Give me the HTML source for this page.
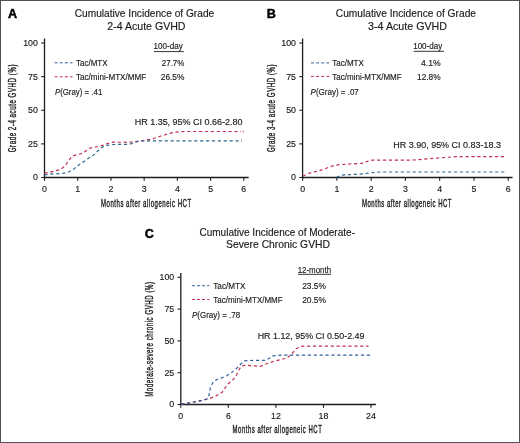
<!DOCTYPE html>
<html><head><meta charset="utf-8"><style>
html,body{margin:0;padding:0;background:#fff;}
#w{position:relative;width:520px;height:443px;overflow:hidden;background:#fff;}
svg{position:absolute;left:0;top:0;filter:blur(0.3px);}
text{font-family:"Liberation Sans",sans-serif;}
</style></head><body><div id="w">
<svg width="520" height="443" viewBox="0 0 520 443">
<rect x="0.5" y="0.5" width="519" height="442" fill="none" stroke="#515151" stroke-width="1"/>
<line x1="44.5" y1="38.5" x2="44.5" y2="178.0" stroke="#1e1e1e" stroke-width="1.3"/>
<line x1="44.0" y1="177.5" x2="248.7" y2="177.5" stroke="#1e1e1e" stroke-width="1.3"/>
<line x1="41.2" y1="177.50" x2="44.5" y2="177.50" stroke="#1e1e1e" stroke-width="1.1"/>
<text x="37.9" y="180.4" font-size="8.8" text-anchor="end" fill="#1a1a1a" stroke="#1a1a1a" stroke-width="0.15">0</text>
<line x1="41.2" y1="143.88" x2="44.5" y2="143.88" stroke="#1e1e1e" stroke-width="1.1"/>
<text x="37.9" y="146.78" font-size="8.8" text-anchor="end" fill="#1a1a1a" stroke="#1a1a1a" stroke-width="0.15">25</text>
<line x1="41.2" y1="110.25" x2="44.5" y2="110.25" stroke="#1e1e1e" stroke-width="1.1"/>
<text x="37.9" y="113.15" font-size="8.8" text-anchor="end" fill="#1a1a1a" stroke="#1a1a1a" stroke-width="0.15">50</text>
<line x1="41.2" y1="76.62" x2="44.5" y2="76.62" stroke="#1e1e1e" stroke-width="1.1"/>
<text x="37.9" y="79.53" font-size="8.8" text-anchor="end" fill="#1a1a1a" stroke="#1a1a1a" stroke-width="0.15">75</text>
<line x1="41.2" y1="43.00" x2="44.5" y2="43.00" stroke="#1e1e1e" stroke-width="1.1"/>
<text x="37.9" y="45.9" font-size="8.8" text-anchor="end" fill="#1a1a1a" stroke="#1a1a1a" stroke-width="0.15">100</text>
<line x1="44.50" y1="177.5" x2="44.50" y2="180.8" stroke="#1e1e1e" stroke-width="1.1"/>
<text x="44.5" y="191.6" font-size="8.8" text-anchor="middle" fill="#1a1a1a" stroke="#1a1a1a" stroke-width="0.15">0</text>
<line x1="77.72" y1="177.5" x2="77.72" y2="180.8" stroke="#1e1e1e" stroke-width="1.1"/>
<text x="77.72" y="191.6" font-size="8.8" text-anchor="middle" fill="#1a1a1a" stroke="#1a1a1a" stroke-width="0.15">1</text>
<line x1="110.94" y1="177.5" x2="110.94" y2="180.8" stroke="#1e1e1e" stroke-width="1.1"/>
<text x="110.94" y="191.6" font-size="8.8" text-anchor="middle" fill="#1a1a1a" stroke="#1a1a1a" stroke-width="0.15">2</text>
<line x1="144.16" y1="177.5" x2="144.16" y2="180.8" stroke="#1e1e1e" stroke-width="1.1"/>
<text x="144.16" y="191.6" font-size="8.8" text-anchor="middle" fill="#1a1a1a" stroke="#1a1a1a" stroke-width="0.15">3</text>
<line x1="177.38" y1="177.5" x2="177.38" y2="180.8" stroke="#1e1e1e" stroke-width="1.1"/>
<text x="177.38" y="191.6" font-size="8.8" text-anchor="middle" fill="#1a1a1a" stroke="#1a1a1a" stroke-width="0.15">4</text>
<line x1="210.60" y1="177.5" x2="210.60" y2="180.8" stroke="#1e1e1e" stroke-width="1.1"/>
<text x="210.6" y="191.6" font-size="8.8" text-anchor="middle" fill="#1a1a1a" stroke="#1a1a1a" stroke-width="0.15">5</text>
<line x1="243.82" y1="177.5" x2="243.82" y2="180.8" stroke="#1e1e1e" stroke-width="1.1"/>
<text x="243.82" y="191.6" font-size="8.8" text-anchor="middle" fill="#1a1a1a" stroke="#1a1a1a" stroke-width="0.15">6</text>
<text x="101.0" y="206.6" font-size="10.2" textLength="90.6" lengthAdjust="spacingAndGlyphs" fill="#1a1a1a" stroke="#222" stroke-width="0.4" letter-spacing="0.9">Months after allogeneic HCT</text>
<g transform="translate(16.4,152.2) rotate(-90)"><text x="0" y="0" font-size="10.2" textLength="88.2" lengthAdjust="spacingAndGlyphs" fill="#1a1a1a" stroke="#222" stroke-width="0.4" letter-spacing="0.9">Grade 2-4 acute GVHD (%)</text></g>
<line x1="302.6" y1="38.5" x2="302.6" y2="178.0" stroke="#1e1e1e" stroke-width="1.3"/>
<line x1="302.1" y1="177.5" x2="512.6" y2="177.5" stroke="#1e1e1e" stroke-width="1.3"/>
<line x1="299.3" y1="177.50" x2="302.6" y2="177.50" stroke="#1e1e1e" stroke-width="1.1"/>
<text x="296.0" y="180.4" font-size="8.8" text-anchor="end" fill="#1a1a1a" stroke="#1a1a1a" stroke-width="0.15">0</text>
<line x1="299.3" y1="143.88" x2="302.6" y2="143.88" stroke="#1e1e1e" stroke-width="1.1"/>
<text x="296.0" y="146.78" font-size="8.8" text-anchor="end" fill="#1a1a1a" stroke="#1a1a1a" stroke-width="0.15">25</text>
<line x1="299.3" y1="110.25" x2="302.6" y2="110.25" stroke="#1e1e1e" stroke-width="1.1"/>
<text x="296.0" y="113.15" font-size="8.8" text-anchor="end" fill="#1a1a1a" stroke="#1a1a1a" stroke-width="0.15">50</text>
<line x1="299.3" y1="76.62" x2="302.6" y2="76.62" stroke="#1e1e1e" stroke-width="1.1"/>
<text x="296.0" y="79.53" font-size="8.8" text-anchor="end" fill="#1a1a1a" stroke="#1a1a1a" stroke-width="0.15">75</text>
<line x1="299.3" y1="43.00" x2="302.6" y2="43.00" stroke="#1e1e1e" stroke-width="1.1"/>
<text x="296.0" y="45.9" font-size="8.8" text-anchor="end" fill="#1a1a1a" stroke="#1a1a1a" stroke-width="0.15">100</text>
<line x1="302.60" y1="177.5" x2="302.60" y2="180.8" stroke="#1e1e1e" stroke-width="1.1"/>
<text x="302.6" y="191.6" font-size="8.8" text-anchor="middle" fill="#1a1a1a" stroke="#1a1a1a" stroke-width="0.15">0</text>
<line x1="336.87" y1="177.5" x2="336.87" y2="180.8" stroke="#1e1e1e" stroke-width="1.1"/>
<text x="336.87" y="191.6" font-size="8.8" text-anchor="middle" fill="#1a1a1a" stroke="#1a1a1a" stroke-width="0.15">1</text>
<line x1="371.14" y1="177.5" x2="371.14" y2="180.8" stroke="#1e1e1e" stroke-width="1.1"/>
<text x="371.14" y="191.6" font-size="8.8" text-anchor="middle" fill="#1a1a1a" stroke="#1a1a1a" stroke-width="0.15">2</text>
<line x1="405.41" y1="177.5" x2="405.41" y2="180.8" stroke="#1e1e1e" stroke-width="1.1"/>
<text x="405.41" y="191.6" font-size="8.8" text-anchor="middle" fill="#1a1a1a" stroke="#1a1a1a" stroke-width="0.15">3</text>
<line x1="439.68" y1="177.5" x2="439.68" y2="180.8" stroke="#1e1e1e" stroke-width="1.1"/>
<text x="439.68" y="191.6" font-size="8.8" text-anchor="middle" fill="#1a1a1a" stroke="#1a1a1a" stroke-width="0.15">4</text>
<line x1="473.95" y1="177.5" x2="473.95" y2="180.8" stroke="#1e1e1e" stroke-width="1.1"/>
<text x="473.95" y="191.6" font-size="8.8" text-anchor="middle" fill="#1a1a1a" stroke="#1a1a1a" stroke-width="0.15">5</text>
<line x1="508.22" y1="177.5" x2="508.22" y2="180.8" stroke="#1e1e1e" stroke-width="1.1"/>
<text x="508.22" y="191.6" font-size="8.8" text-anchor="middle" fill="#1a1a1a" stroke="#1a1a1a" stroke-width="0.15">6</text>
<text x="362.0" y="206.6" font-size="10.2" textLength="90.0" lengthAdjust="spacingAndGlyphs" fill="#1a1a1a" stroke="#222" stroke-width="0.4" letter-spacing="0.9">Months after allogeneic HCT</text>
<g transform="translate(275.0,152.0) rotate(-90)"><text x="0" y="0" font-size="10.2" textLength="88.2" lengthAdjust="spacingAndGlyphs" fill="#1a1a1a" stroke="#222" stroke-width="0.4" letter-spacing="0.9">Grade 3-4 acute GVHD (%)</text></g>
<line x1="180.8" y1="273.0" x2="180.8" y2="405.0" stroke="#1e1e1e" stroke-width="1.3"/>
<line x1="180.3" y1="404.5" x2="375.9" y2="404.5" stroke="#1e1e1e" stroke-width="1.3"/>
<line x1="177.5" y1="404.50" x2="180.8" y2="404.50" stroke="#1e1e1e" stroke-width="1.1"/>
<text x="174.20000000000002" y="407.4" font-size="8.8" text-anchor="end" fill="#1a1a1a" stroke="#1a1a1a" stroke-width="0.15">0</text>
<line x1="177.5" y1="372.70" x2="180.8" y2="372.70" stroke="#1e1e1e" stroke-width="1.1"/>
<text x="174.20000000000002" y="375.6" font-size="8.8" text-anchor="end" fill="#1a1a1a" stroke="#1a1a1a" stroke-width="0.15">25</text>
<line x1="177.5" y1="340.90" x2="180.8" y2="340.90" stroke="#1e1e1e" stroke-width="1.1"/>
<text x="174.20000000000002" y="343.8" font-size="8.8" text-anchor="end" fill="#1a1a1a" stroke="#1a1a1a" stroke-width="0.15">50</text>
<line x1="177.5" y1="309.10" x2="180.8" y2="309.10" stroke="#1e1e1e" stroke-width="1.1"/>
<text x="174.20000000000002" y="312.0" font-size="8.8" text-anchor="end" fill="#1a1a1a" stroke="#1a1a1a" stroke-width="0.15">75</text>
<line x1="177.5" y1="277.30" x2="180.8" y2="277.30" stroke="#1e1e1e" stroke-width="1.1"/>
<text x="174.20000000000002" y="280.2" font-size="8.8" text-anchor="end" fill="#1a1a1a" stroke="#1a1a1a" stroke-width="0.15">100</text>
<line x1="180.80" y1="404.5" x2="180.80" y2="407.8" stroke="#1e1e1e" stroke-width="1.1"/>
<text x="180.8" y="418.6" font-size="8.8" text-anchor="middle" fill="#1a1a1a" stroke="#1a1a1a" stroke-width="0.15">0</text>
<line x1="228.35" y1="404.5" x2="228.35" y2="407.8" stroke="#1e1e1e" stroke-width="1.1"/>
<text x="228.35" y="418.6" font-size="8.8" text-anchor="middle" fill="#1a1a1a" stroke="#1a1a1a" stroke-width="0.15">6</text>
<line x1="275.90" y1="404.5" x2="275.90" y2="407.8" stroke="#1e1e1e" stroke-width="1.1"/>
<text x="275.9" y="418.6" font-size="8.8" text-anchor="middle" fill="#1a1a1a" stroke="#1a1a1a" stroke-width="0.15">12</text>
<line x1="323.45" y1="404.5" x2="323.45" y2="407.8" stroke="#1e1e1e" stroke-width="1.1"/>
<text x="323.45" y="418.6" font-size="8.8" text-anchor="middle" fill="#1a1a1a" stroke="#1a1a1a" stroke-width="0.15">18</text>
<line x1="371.00" y1="404.5" x2="371.00" y2="407.8" stroke="#1e1e1e" stroke-width="1.1"/>
<text x="371.0" y="418.6" font-size="8.8" text-anchor="middle" fill="#1a1a1a" stroke="#1a1a1a" stroke-width="0.15">24</text>
<text x="232.6" y="433.0" font-size="10.2" textLength="89.7" lengthAdjust="spacingAndGlyphs" fill="#1a1a1a" stroke="#222" stroke-width="0.4" letter-spacing="0.9">Months after allogeneic HCT</text>
<g transform="translate(152.7,396.8) rotate(-90)"><text x="0" y="0" font-size="10.2" textLength="115.4" lengthAdjust="spacingAndGlyphs" fill="#1a1a1a" stroke="#222" stroke-width="0.4" letter-spacing="0.9">Moderate-severe chronic GVHD (%)</text></g>
<text x="7.9" y="17.6" font-size="12.6" font-weight="bold" fill="#000" stroke="#000" stroke-width="0.45">A</text>
<text x="266.8" y="17.6" font-size="12.6" font-weight="bold" fill="#000" stroke="#000" stroke-width="0.45">B</text>
<text x="144.7" y="237.5" font-size="12.6" font-weight="bold" fill="#000" stroke="#000" stroke-width="0.45">C</text>
<text x="74.7" y="16.6" font-size="10.6" textLength="139.5" lengthAdjust="spacingAndGlyphs" fill="#1a1a1a" stroke="#1a1a1a" stroke-width="0.15">Cumulative Incidence of Grade</text>
<text x="107.3" y="29.6" font-size="10.6" textLength="78.2" lengthAdjust="spacingAndGlyphs" fill="#1a1a1a" stroke="#1a1a1a" stroke-width="0.15">2-4 Acute GVHD</text>
<text x="335.8" y="16.6" font-size="10.6" textLength="140.2" lengthAdjust="spacingAndGlyphs" fill="#1a1a1a" stroke="#1a1a1a" stroke-width="0.15">Cumulative Incidence of Grade</text>
<text x="368.1" y="29.6" font-size="10.6" textLength="78.9" lengthAdjust="spacingAndGlyphs" fill="#1a1a1a" stroke="#1a1a1a" stroke-width="0.15">3-4 Acute GVHD</text>
<text x="199.4" y="235.5" font-size="10.6" textLength="155.6" lengthAdjust="spacingAndGlyphs" fill="#1a1a1a" stroke="#1a1a1a" stroke-width="0.15">Cumulative Incidence of Moderate-</text>
<text x="226.0" y="248.1" font-size="10.6" textLength="104.0" lengthAdjust="spacingAndGlyphs" fill="#1a1a1a" stroke="#1a1a1a" stroke-width="0.15">Severe Chronic GVHD</text>
<line x1="54.6" y1="62.8" x2="72.6" y2="62.8" stroke="#30609e" stroke-width="1.0" stroke-dasharray="3 2.1"/>
<line x1="54.6" y1="76.8" x2="72.6" y2="76.8" stroke="#c0304f" stroke-width="1.0" stroke-dasharray="3 2.1"/>
<text x="76.0" y="66.2" font-size="8.7" textLength="31.5" lengthAdjust="spacingAndGlyphs" fill="#1a1a1a" stroke="#1a1a1a" stroke-width="0.15">Tac/MTX</text>
<text x="76.0" y="79.7" font-size="8.7" textLength="70.2" lengthAdjust="spacingAndGlyphs" fill="#1a1a1a" stroke="#1a1a1a" stroke-width="0.15">Tac/mini-MTX/MMF</text>
<text x="54.9" y="95.0" font-size="8.7" fill="#1a1a1a" stroke="#1a1a1a" stroke-width="0.15" textLength="47.4" lengthAdjust="spacingAndGlyphs"><tspan font-style="italic">P</tspan>(Gray) = .41</text>
<text x="153.6" y="48.7" font-size="8.7" textLength="29.2" lengthAdjust="spacingAndGlyphs" fill="#1a1a1a" stroke="#1a1a1a" stroke-width="0.15">100-day</text>
<line x1="154.0" y1="51.6" x2="183.8" y2="51.6" stroke="#1e1e1e" stroke-width="0.9"/>
<text x="184.4" y="66.2" font-size="8.7" text-anchor="end" textLength="22.6" lengthAdjust="spacingAndGlyphs" fill="#1a1a1a" stroke="#1a1a1a" stroke-width="0.15">27.7%</text>
<text x="184.4" y="79.7" font-size="8.7" text-anchor="end" textLength="23.6" lengthAdjust="spacingAndGlyphs" fill="#1a1a1a" stroke="#1a1a1a" stroke-width="0.15">26.5%</text>
<line x1="311.0" y1="62.9" x2="329.2" y2="62.9" stroke="#30609e" stroke-width="1.0" stroke-dasharray="3 2.1"/>
<line x1="311.0" y1="76.4" x2="329.2" y2="76.4" stroke="#c0304f" stroke-width="1.0" stroke-dasharray="3 2.1"/>
<text x="332.3" y="66.0" font-size="8.7" textLength="31.5" lengthAdjust="spacingAndGlyphs" fill="#1a1a1a" stroke="#1a1a1a" stroke-width="0.15">Tac/MTX</text>
<text x="332.3" y="79.5" font-size="8.7" textLength="69.4" lengthAdjust="spacingAndGlyphs" fill="#1a1a1a" stroke="#1a1a1a" stroke-width="0.15">Tac/mini-MTX/MMF</text>
<text x="310.6" y="94.8" font-size="8.7" fill="#1a1a1a" stroke="#1a1a1a" stroke-width="0.15" textLength="48.2" lengthAdjust="spacingAndGlyphs"><tspan font-style="italic">P</tspan>(Gray) = .07</text>
<text x="413.2" y="48.5" font-size="8.7" textLength="29.0" lengthAdjust="spacingAndGlyphs" fill="#1a1a1a" stroke="#1a1a1a" stroke-width="0.15">100-day</text>
<line x1="413.7" y1="51.3" x2="444.0" y2="51.3" stroke="#1e1e1e" stroke-width="0.9"/>
<text x="440.6" y="66.0" font-size="8.7" text-anchor="end" textLength="19.6" lengthAdjust="spacingAndGlyphs" fill="#1a1a1a" stroke="#1a1a1a" stroke-width="0.15">4.1%</text>
<text x="440.6" y="79.5" font-size="8.7" text-anchor="end" textLength="23.5" lengthAdjust="spacingAndGlyphs" fill="#1a1a1a" stroke="#1a1a1a" stroke-width="0.15">12.8%</text>
<line x1="191.9" y1="285.7" x2="209.4" y2="285.7" stroke="#30609e" stroke-width="1.0" stroke-dasharray="3 2.1"/>
<line x1="191.9" y1="299.5" x2="209.4" y2="299.5" stroke="#c0304f" stroke-width="1.0" stroke-dasharray="3 2.1"/>
<text x="213.3" y="289.0" font-size="8.7" textLength="32.1" lengthAdjust="spacingAndGlyphs" fill="#1a1a1a" stroke="#1a1a1a" stroke-width="0.15">Tac/MTX</text>
<text x="213.3" y="302.8" font-size="8.7" textLength="69.4" lengthAdjust="spacingAndGlyphs" fill="#1a1a1a" stroke="#1a1a1a" stroke-width="0.15">Tac/mini-MTX/MMF</text>
<text x="192.0" y="318.0" font-size="8.7" fill="#1a1a1a" stroke="#1a1a1a" stroke-width="0.15" textLength="48.1" lengthAdjust="spacingAndGlyphs"><tspan font-style="italic">P</tspan>(Gray) = .78</text>
<text x="297.7" y="272.9" font-size="8.7" textLength="33.4" lengthAdjust="spacingAndGlyphs" fill="#1a1a1a" stroke="#1a1a1a" stroke-width="0.15">12-month</text>
<line x1="298.0" y1="274.3" x2="331.0" y2="274.3" stroke="#1e1e1e" stroke-width="0.9"/>
<text x="314.1" y="289.0" font-size="8.7" text-anchor="middle" textLength="23.9" lengthAdjust="spacingAndGlyphs" fill="#1a1a1a" stroke="#1a1a1a" stroke-width="0.15">23.5%</text>
<text x="314.1" y="302.8" font-size="8.7" text-anchor="middle" textLength="23.9" lengthAdjust="spacingAndGlyphs" fill="#1a1a1a" stroke="#1a1a1a" stroke-width="0.15">20.5%</text>
<text x="134.7" y="124.9" font-size="8.6" textLength="107.8" lengthAdjust="spacingAndGlyphs" fill="#1a1a1a" stroke="#1a1a1a" stroke-width="0.15">HR 1.35, 95% CI 0.66-2.80</text>
<text x="393.3" y="148.0" font-size="8.6" textLength="107.6" lengthAdjust="spacingAndGlyphs" fill="#1a1a1a" stroke="#1a1a1a" stroke-width="0.15">HR 3.90, 95% CI 0.83-18.3</text>
<text x="257.7" y="339.3" font-size="8.6" textLength="106.8" lengthAdjust="spacingAndGlyphs" fill="#1a1a1a" stroke="#1a1a1a" stroke-width="0.15">HR 1.12, 95% CI 0.50-2.49</text>
<polyline points="44.5,173.2 53.5,171.4 60.5,169.4 65.0,166.0 68.5,160.8 72.0,156.2 76.6,154.8 81.2,153.6 85.8,151.0 90.5,147.8 95.8,147.0 99.2,146.2 103.8,145.0 108.5,143.3 113.0,142.2 128.0,142.3 132.0,142.0 140.0,141.0 150.0,139.4 155.0,138.0 160.0,136.3 165.0,134.8 170.0,133.3 175.0,132.2 180.0,131.7 185.0,131.5 241.0,131.5" fill="none" stroke="#c0304f" stroke-width="1.2" stroke-dasharray="3.2 2.7" stroke-linejoin="round"/>
<line x1="243.3" y1="130.2" x2="243.3" y2="132.9" stroke="#c0304f" stroke-width="0.8" opacity="0.75"/>
<line x1="241.4" y1="139.4" x2="241.4" y2="142.1" stroke="#306a90" stroke-width="0.8" opacity="0.75"/>
<polyline points="44.5,174.8 53.5,173.9 61.6,173.6 67.4,172.4 72.0,170.6 76.6,166.5 82.4,162.5 88.2,158.5 92.8,155.6 96.9,151.8 101.5,147.6 105.0,145.8 109.0,145.0 113.0,144.5 129.0,144.4 133.0,143.2 136.5,141.8 141.0,140.9 239.0,140.9" fill="none" stroke="#306a90" stroke-width="1.2" stroke-dasharray="3.2 2.7" stroke-linejoin="round"/>
<polyline points="302.9,176.2 307.7,173.6 314.4,171.9 321.2,170.2 328.8,167.3 334.6,165.4 340.4,164.6 350.0,164.0 361.5,163.4 367.3,161.3 372.3,160.2 410.0,160.2 429.2,158.8 444.6,157.5 456.2,156.6 506.5,156.6" fill="none" stroke="#c0304f" stroke-width="1.2" stroke-dasharray="3.2 2.7" stroke-linejoin="round"/>
<polyline points="336.5,177.3 341.3,175.2 350.0,174.6 355.4,174.4 363.0,173.8 370.8,172.8 380.0,172.0 506.5,172.0" fill="none" stroke="#306a90" stroke-width="1.2" stroke-dasharray="3.2 2.7" stroke-linejoin="round"/>
<polyline points="181.2,404.2 193.8,402.1 203.3,400.1 209.6,398.5 215.9,396.1 222.3,392.2 225.4,387.4 228.6,383.5 233.3,379.5 236.5,374.8 238.9,370.0 241.2,366.1 246.0,365.3 258.0,366.1 260.8,366.3 265.4,364.2 273.1,361.5 286.9,358.1 291.5,354.2 296.2,348.8 300.8,346.5 306.0,346.1 368.5,346.1" fill="none" stroke="#c0304f" stroke-width="1.2" stroke-dasharray="3.2 2.7" stroke-linejoin="round"/>
<polyline points="181.2,404.2 187.5,403.2 193.8,402.0 201.7,400.6 207.2,398.8 208.8,396.1 210.4,387.4 212.8,382.7 216.7,379.5 222.3,377.6 227.0,375.6 231.8,372.4 236.5,368.5 241.2,363.7 244.4,360.9 249.1,360.5 265.4,360.4 268.5,358.8 273.1,355.8 280.8,355.2 370.8,355.2" fill="none" stroke="#30609e" stroke-width="1.2" stroke-dasharray="3.2 2.7" stroke-linejoin="round"/>
</svg></div></body></html>
